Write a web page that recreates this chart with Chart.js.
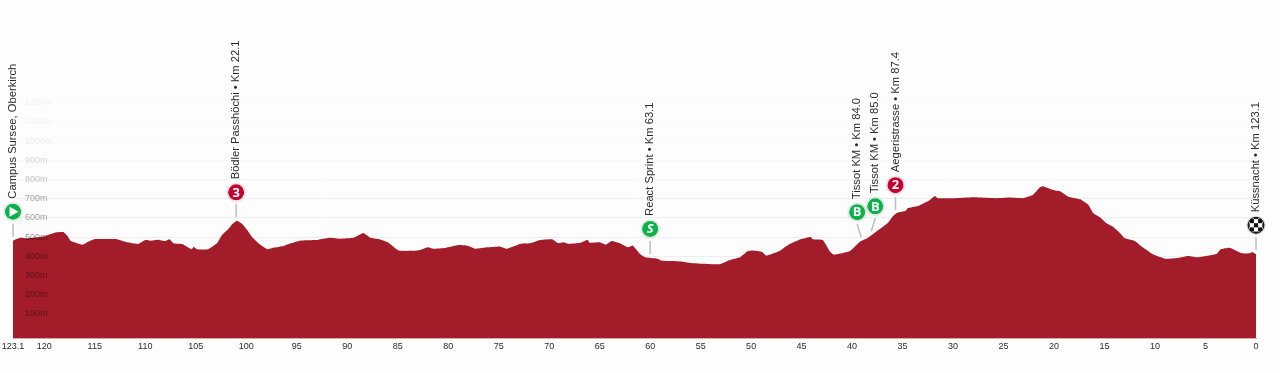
<!DOCTYPE html>
<html>
<head>
<meta charset="utf-8">
<title>Profile</title>
<script src="https://cdn.jsdelivr.net/npm/chart.js@4"></script>
<style>
html, body { margin: 0; padding: 0; background: #fdfdfd; }
canvas { display: block; }
</style>
</head>
<body>
<canvas id="myChart" width="1280" height="373"></canvas>
<script>
// km to go
const profileKm = [123.1,122.4,121.7,120.1,118.9,118.1,117.7,117.4,116.2,115.6,115.0,114.0,112.8,111.8,110.7,110.0,109.5,108.7,108.0,107.6,107.2,106.3,105.4,105.2,104.9,103.8,102.9,102.4,101.8,101.3,100.9,100.4,99.9,99.4,98.8,97.9,97.3,96.3,95.6,94.7,93.0,92.7,91.7,90.7,89.4,88.4,87.7,86.9,86.0,84.9,83.0,82.0,81.5,80.3,79.0,78.1,77.3,76.1,74.9,74.2,72.9,71.9,70.9,69.7,69.1,68.6,68.1,66.9,66.2,66.0,65.0,64.4,63.8,63.0,62.2,61.7,61.0,60.5,59.3,58.8,57.7,57.0,55.7,53.1,52.1,51.1,50.4,49.9,48.9,48.5,47.3,46.3,45.1,44.1,43.9,42.9,42.2,41.8,40.2,39.2,38.5,36.5,36.0,35.5,34.7,34.5,33.5,32.9,32.3,31.8,31.5,30.0,28.0,25.6,24.4,23.1,22.1,21.4,21.1,20.1,19.4,18.6,17.4,16.6,16.1,15.4,14.8,14.2,13.5,13.0,12.0,11.3,10.2,9.0,7.7,6.7,5.7,3.9,3.5,2.6,1.4,0.6,0.4,0];
const profileElev = [482,497,494,503,525,527,506,482,461,477,490,490,489,473,465,485,482,487,480,489,468,463,437,450,437,437,468,511,541,572,586,569,537,499,468,437,445,454,468,482,485,489,497,492,497,522,497,490,473,430,430,447,440,444,459,456,440,447,452,440,465,468,485,489,468,473,465,471,487,471,473,461,480,468,447,456,412,395,388,377,376,373,364,359,381,395,425,430,423,404,425,461,489,501,489,485,425,409,428,477,494,572,607,628,636,650,662,677,694,715,703,703,708,703,706,703,720,760,765,746,739,711,697,668,624,601,572,555,523,494,480,450,411,388,392,402,395,412,437,445,416,416,423,411];

const xTickValues = [123.1,120,115,110,105,100,95,90,85,80,75,70,65,60,55,50,45,40,35,30,25,20,15,10,5,0];
const yTickValues = [100,200,300,400,500,600,700,800,900,1000,1100,1200];

// points of interest along the route
const poiKm = [123.1,101.0,60.0,39.1,38.1,35.7,0];
const poiLabels = ['Campus Sursee, Oberkirch','Bödler Passhöchi • Km 22.1','React Sprint • Km 63.1','Tissot KM • Km 84.0','Tissot KM • Km 85.0','Aegeristrasse • Km 87.4','Küssnacht • Km 123.1'];
const poiIcons = ['start','3','S','B','B','2','finish'];

const GREEN = '#0cb14b';
const RED = '#c3002f';

function elevationAt(km) {
    for (let i = 1; i < profileKm.length; i++) {
        if (km >= profileKm[i]) {
            const t = (profileKm[i - 1] - km) / (profileKm[i - 1] - profileKm[i]);
            return profileElev[i - 1] + t * (profileElev[i] - profileElev[i - 1]);
        }
    }
    return profileElev[profileElev.length - 1];
}

function drawIcon(ctx, icon, x, y) {
    const r = 8;
    ctx.save();
    ctx.shadowColor = 'rgba(0,0,0,0.4)';
    ctx.shadowBlur = 2;
    ctx.fillStyle = '#fff';
    ctx.beginPath();
    ctx.arc(x, y, r + 0.6, 0, Math.PI * 2);
    ctx.fill();
    ctx.restore();

    ctx.save();
    ctx.beginPath();
    ctx.arc(x, y, r, 0, Math.PI * 2);
    if (icon === 'finish') {
        ctx.fillStyle = '#fff';
        ctx.fill();
        ctx.save();
        ctx.clip();
        ctx.fillStyle = '#111';
        const s = 4.2;
        for (let i = -3; i < 3; i++) {
            for (let j = -3; j < 3; j++) {
                if ((i + j + 6) % 2 === 0) ctx.fillRect(x + i * s + s / 2, y + j * s + s / 2, s, s);
            }
        }
        ctx.restore();
        ctx.strokeStyle = '#111';
        ctx.lineWidth = 1;
        ctx.stroke();
    } else {
        ctx.fillStyle = (icon === '3' || icon === '2') ? RED : GREEN;
        ctx.fill();
        ctx.fillStyle = '#fff';
        if (icon === 'start') {
            ctx.beginPath();
            ctx.moveTo(x - 3.5, y - 5);
            ctx.lineTo(x + 5.5, y);
            ctx.lineTo(x - 3.5, y + 5);
            ctx.closePath();
            ctx.fill();
        } else {
            ctx.font = (icon === 'S' ? 'italic ' : '') + 'bold 13px "Open Sans", "Liberation Sans", sans-serif';
            ctx.textAlign = 'center';
            ctx.textBaseline = 'middle';
            ctx.fillText(icon, x, y + 0.5);
        }
    }
    ctx.restore();
}

// stems, badges and vertical labels, hung from the scales
const poiPlugin = {
    id: 'poiPlugin',
    afterDatasetsDraw(chart) {
        const ctx = chart.ctx;
        const xs = chart.scales.x;
        const ys = chart.scales.y;
        poiKm.forEach((km, i) => {
            const lean = i === 3 ? -4 : (i === 4 ? 4 : 0); // the two Tissot badges push apart
            const x = xs.getPixelForValue(km);
            const ground = ys.getPixelForValue(elevationAt(km));
            const tip = ground - 4;
            const stemTop = tip - 13;
            const cy = stemTop - 12;
            ctx.save();
            ctx.strokeStyle = '#bdbdbd';
            ctx.lineWidth = 1.5;
            ctx.beginPath();
            ctx.moveTo(x, tip);
            ctx.lineTo(x + lean, stemTop);
            ctx.stroke();
            ctx.restore();

            drawIcon(ctx, poiIcons[i], x + lean, cy);

            ctx.save();
            ctx.translate(x + lean, cy - 13);
            ctx.rotate(-Math.PI / 2);
            ctx.font = '11.2px "Liberation Sans", Arial, sans-serif';
            ctx.fillStyle = '#2b2b2b';
            ctx.textAlign = 'left';
            ctx.textBaseline = 'middle';
            ctx.fillText(poiLabels[i], 0, 0);
            ctx.restore();
        });
    }
};

const tickAlpha = v => v <= 500 ? 0.42 : v <= 700 ? 0.38 : v === 800 ? 0.25 : v === 900 ? 0.16 : v === 1000 ? 0.08 : 0.05;
const gridAlpha = v => v <= 700 ? 0.06 : v === 800 ? 0.035 : v === 900 ? 0.02 : 0.01;

new Chart(document.getElementById('myChart').getContext('2d'), {
    type: 'line',
    data: {
        datasets: [{
            data: profileKm.map((km, i) => ({ x: km, y: profileElev[i] })),
            backgroundColor: '#a21c2a',
            borderWidth: 0,
            pointRadius: 0,
            tension: 0.12,
            fill: 'start'
        }]
    },
    plugins: [poiPlugin],
    options: {
        responsive: false,
        animation: false,
        events: [],
        layout: { padding: { left: 13, right: 24, top: 0, bottom: 0 } },
        plugins: { legend: { display: false }, tooltip: { enabled: false } },
        scales: {
            x: {
                type: 'linear',
                reverse: true,
                min: 0,
                max: 123.1,
                afterBuildTicks: axis => { axis.ticks = xTickValues.map(v => ({ value: v })); },
                afterFit: axis => { axis.height = 35; axis.paddingLeft = 0; axis.paddingRight = 0; },
                grid: { display: false, drawTicks: false },
                border: { display: true, color: '#dba9ae', width: 1 },
                ticks: {
                    autoSkip: false,
                    maxRotation: 0,
                    padding: 3,
                    color: '#2b2b2b',
                    font: { family: '"Liberation Sans", Arial, sans-serif', size: 9 },
                    callback: v => String(v)
                }
            },
            y: {
                min: -25,
                max: 1735,
                afterBuildTicks: axis => { axis.ticks = yTickValues.map(v => ({ value: v })); },
                afterFit: axis => { axis.width = 0; axis.paddingTop = 0; axis.paddingBottom = 0; },
                border: { display: false },
                grid: {
                    drawTicks: false,
                    color: ctx => 'rgba(0,0,0,' + gridAlpha(ctx.tick.value) + ')'
                },
                ticks: {
                    mirror: true,
                    z: 1,
                    padding: 12,
                    autoSkip: false,
                    color: ctx => 'rgba(0,0,0,' + tickAlpha(ctx.tick.value) + ')',
                    font: { family: '"Liberation Sans", Arial, sans-serif', size: 9 },
                    callback: v => v + 'm'
                }
            }
        }
    }
});
</script>
</body>
</html>
